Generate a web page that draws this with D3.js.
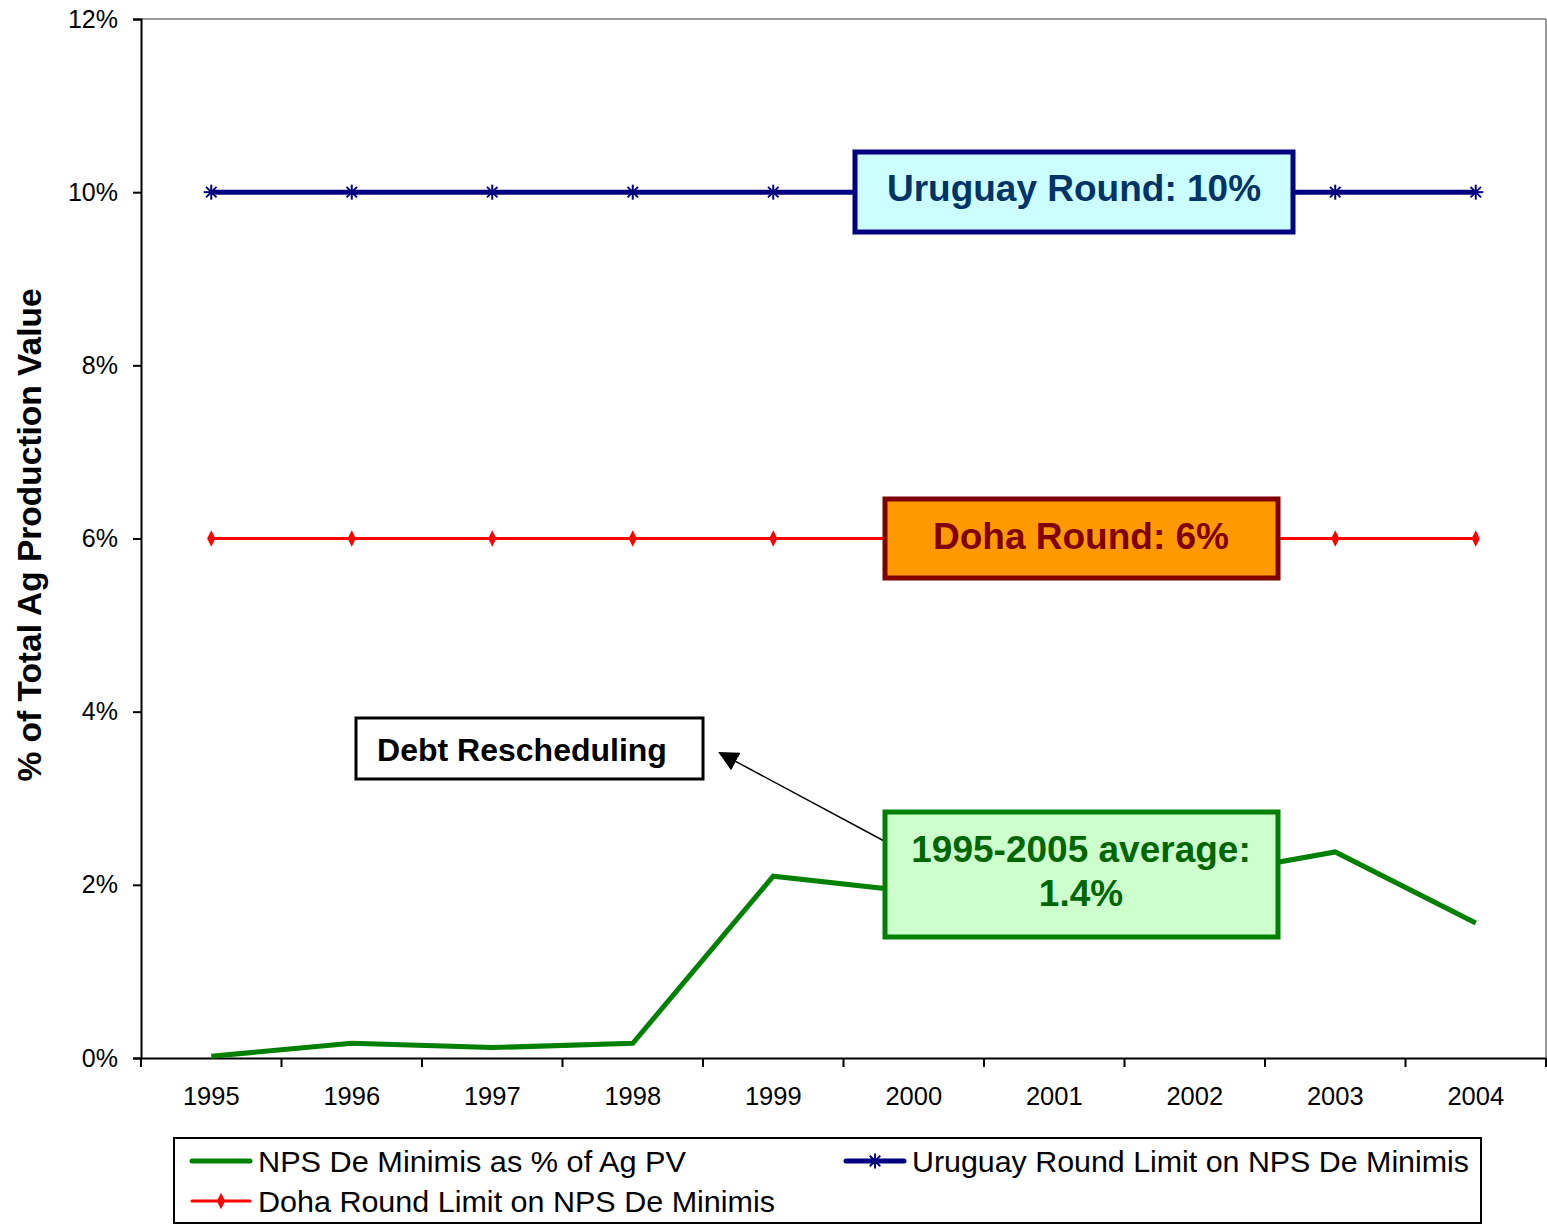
<!DOCTYPE html>
<html><head><meta charset="utf-8">
<script src="https://cdn.jsdelivr.net/npm/d3@7"></script>
<style>body{margin:0;background:#fff}svg{display:block;font-family:"Liberation Sans",Arial,sans-serif}</style>
</head><body><svg id="c" width="1547" height="1225"></svg>
<script>
const years = ["1995","1996","1997","1998","1999","2000","2001","2002","2003","2004"];
const npsValues = [0.02,0.17,0.12,0.17,2.10,1.92,2.00,2.09,2.38,1.56];
const uruguayValues = [10,10,10,10,10,10,10,10,10,10];
const dohaValues = [6,6,6,6,6,6,6,6,6,6];
const yTicks = [0,2,4,6,8,10,12];
const seriesNames = ["NPS De Minimis as % of Ag PV","Uruguay Round Limit on NPS De Minimis","Doha Round Limit on NPS De Minimis"];

const svg = d3.select("#c");
const L=141,R=1546,T=19,B=1058;
const x = d3.scaleBand().domain(years).range([L,R]);
const y = d3.scaleLinear().domain([0,12]).range([B,T]);
const cx = d => x(d)+x.bandwidth()/2;
const FF = "Liberation Sans, Arial, sans-serif";

// borders
svg.append("line").attr("x1",L).attr("x2",R).attr("y1",T).attr("y2",T).attr("stroke","#999").attr("stroke-width",2);
svg.append("line").attr("x1",R).attr("x2",R).attr("y1",T).attr("y2",B).attr("stroke","#999").attr("stroke-width",2);

// y axis
const ya = svg.append("g").attr("transform",`translate(${L},0)`)
  .call(d3.axisLeft(y).tickValues(yTicks).tickSize(8).tickFormat(d=>d+"%"));
ya.select(".domain").attr("stroke","#000").attr("stroke-width",2);
ya.selectAll(".tick line").attr("stroke","#000").attr("stroke-width",2);
ya.selectAll("text").attr("font-size",25).attr("fill","#000").attr("x",-23).attr("font-family",FF);

// x axis
const xa = svg.append("g").attr("transform",`translate(0,${B})`)
  .call(d3.axisBottom(x).tickSize(0).tickPadding(29));
xa.select(".domain").attr("stroke","#000").attr("stroke-width",2);
xa.selectAll("text").attr("font-size",25.5).attr("fill","#000").attr("font-family",FF);
const bounds = years.map(d=>x(d)).concat([R]);
svg.append("g").selectAll("line").data(bounds).join("line")
  .attr("x1",d=>d).attr("x2",d=>d).attr("y1",B).attr("y2",B+9).attr("stroke","#000").attr("stroke-width",2);

// y title
svg.append("text").attr("transform","translate(41,535) rotate(-90)").attr("text-anchor","middle")
  .attr("font-size",33.5).attr("font-weight","bold").text("% of Total Ag Production Value");

const line = d3.line().x((d,i)=>cx(years[i])).y(d=>y(d));

// red Doha
svg.append("path").datum(dohaValues).attr("d",line).attr("fill","none").attr("stroke","#ff0000").attr("stroke-width",3);
svg.append("g").selectAll("path").data(dohaValues).join("path")
  .attr("d",d3.symbol(d3.symbolDiamond,80)).attr("transform",(d,i)=>`translate(${cx(years[i])},${y(d)}) scale(0.85,1)`).attr("fill","#ff0000");

// blue Uruguay
svg.append("path").datum(uruguayValues).attr("d",line).attr("fill","none").attr("stroke","#000080").attr("stroke-width",5);
const star = (g)=>{
  const s=7.5;
  [[-s,0,s,0],[0,-s,0,s],[-s*0.7,-s*0.7,s*0.7,s*0.7],[-s*0.7,s*0.7,s*0.7,-s*0.7]].forEach(a=>
    g.append("line").attr("x1",a[0]).attr("y1",a[1]).attr("x2",a[2]).attr("y2",a[3]).attr("stroke","#000080").attr("stroke-width",2));
};
svg.append("g").selectAll("g").data(uruguayValues).join("g")
  .attr("transform",(d,i)=>`translate(${cx(years[i])},${y(d)})`).each(function(){star(d3.select(this));});

// green
svg.append("path").datum(npsValues).attr("d",line).attr("fill","none").attr("stroke","#008000").attr("stroke-width",5).attr("stroke-linejoin","miter");

// annotation boxes
function box(x0,y0,w,h,fill,stroke,sw){
  svg.append("rect").attr("x",x0).attr("y",y0).attr("width",w).attr("height",h).attr("fill",fill).attr("stroke",stroke).attr("stroke-width",sw);
}
function label(t,xx,yy,size,color){
  svg.append("text").attr("x",xx).attr("y",yy).attr("text-anchor","middle").attr("font-size",size).attr("font-weight","bold").attr("fill",color).text(t);
}
box(855,152,438,80,"#ccffff","#000080",5);
label("Uruguay Round: 10%",1074,201,37,"#003366");
box(885,499,393,79,"#ff9900","#800000",5);
label("Doha Round: 6%",1081,549,37,"#800000");
box(356,718,347,61,"#fff","#000",3);
label("Debt Rescheduling",522,761,32,"#000");

// arrow
svg.append("defs").append("marker").attr("id","ah").attr("viewBox","0 0 10 10").attr("refX",9).attr("refY",5)
  .attr("markerWidth",20).attr("markerHeight",20).attr("markerUnits","userSpaceOnUse").attr("orient","auto")
  .append("path").attr("d","M0,0 L10,5 L0,10 Z").attr("fill","#000");
svg.append("line").attr("x1",886).attr("y1",842).attr("x2",720).attr("y2",753).attr("stroke","#000").attr("stroke-width",1.5).attr("marker-end","url(#ah)");

box(885,812,393,125,"#ccffcc","#008000",5);
label("1995-2005 average:",1081,862,37,"#006600");
label("1.4%",1081,906,37,"#006600");

// legend
box(174,1138,1307,85,"#fff","#000",2);
const leg = [
  {name:seriesNames[0],color:"#008000",x:192,y:1161,mark:"none",w:5,len:428},
  {name:seriesNames[1],color:"#000080",x:846,y:1161,mark:"star",w:5,len:557},
  {name:seriesNames[2],color:"#ff0000",x:192,y:1201,mark:"diamond",w:3,len:517}
];
leg.forEach(l=>{
  svg.append("line").attr("x1",l.x).attr("x2",l.x+58).attr("y1",l.y).attr("y2",l.y).attr("stroke",l.color).attr("stroke-width",l.w).attr("stroke-linecap","round");
  if(l.mark==="diamond") svg.append("path").attr("d",d3.symbol(d3.symbolDiamond,80)).attr("transform",`translate(${l.x+29},${l.y}) scale(0.85,1)`).attr("fill",l.color);
  if(l.mark==="star") star(svg.append("g").attr("transform",`translate(${l.x+29},${l.y})`));
  svg.append("text").attr("x",l.x+66).attr("y",l.y+11).attr("font-size",30).attr("fill","#000")
    .attr("textLength",l.len).attr("lengthAdjust","spacingAndGlyphs").text(l.name);
});
</script></body></html>
